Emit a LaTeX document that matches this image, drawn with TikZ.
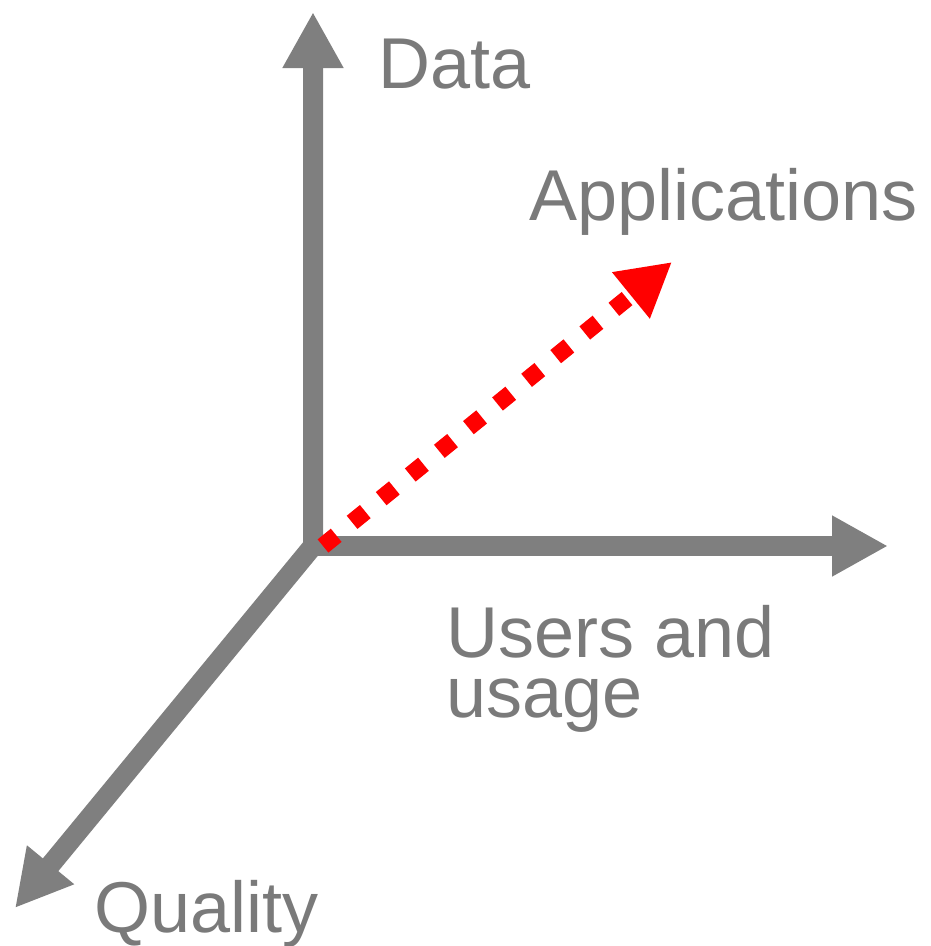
\documentclass[tikz,border=0pt]{standalone}
\usepackage{fontspec}
\setmainfont{Liberation Sans}
\usetikzlibrary{arrows.meta}
\definecolor{axisgray}{HTML}{7F7F7F}
\definecolor{textgray}{HTML}{7A7A7A}
\begin{document}
\begin{tikzpicture}[x=1pt,y=-1pt,
  axis/.style={draw=axisgray,line width=20pt,line cap=butt,line join=miter},
  ghead/.tip={Triangle[length=56pt,width=57pt]},
  rhead/.tip={Triangle[length=53pt,width=56pt]},
  redarrow/.style={draw=red,line width=17pt,dash pattern=on 17pt off 20.5pt,-rhead},
  lbl/.style={inner sep=0pt,anchor=base west,text=textgray,font=\fontsize{72}{60}\selectfont}]
\useasboundingbox (0,0) rectangle (930,946);
\coordinate (o) at (313,546);
\coordinate (dtip) at (313,12);
\coordinate (utip) at (888,546);
\coordinate (qtip) at (15,908);
\coordinate (ostart) at (303,546);
\coordinate (rstart) at (323,546);
\coordinate (atip) at (672,262);
\draw[axis,ghead-ghead] (dtip) -- (o) -- (qtip);
\draw[axis,-ghead] (ostart) -- (utip);
\draw[redarrow] (rstart) -- (atip);
\node[lbl] (data) at (378,88) {Data};
\node[lbl] (apps) at (529,220) {Applications};
\node[lbl] (users) at (446,657) {Users and};
\node[lbl] (usage) at (446,717) {usage};
\node[lbl] (quality) at (94,932) {Quality};
\end{tikzpicture}
\end{document}
